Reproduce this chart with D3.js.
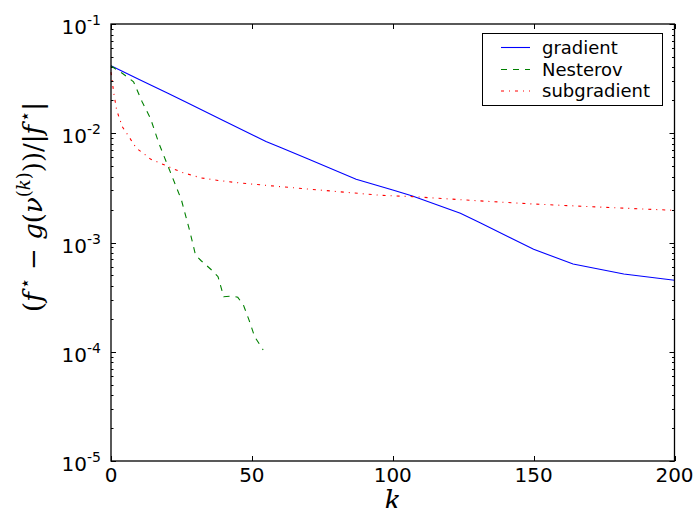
<!DOCTYPE html>
<html>
<head>
<meta charset="utf-8">
<script src="https://cdn.jsdelivr.net/npm/d3@7"></script>
<style>
  body { margin: 0; background: #fff; }
  text { font-family: "DejaVu Sans", sans-serif; }
</style>
</head>
<body>
<div id="viz-container"></div>
<script>
// data
let gradK   = [0, 10, 20, 26, 40, 55, 60, 70, 87, 100, 107, 124, 131, 150, 164, 182, 200];
let gradVal = [0.0414, 0.0311, 0.0233, 0.0196, 0.0130, 0.00841, 0.00743, 0.00581, 0.0038, 0.00302, 0.00267, 0.00185, 0.00152, 0.000867, 0.000635, 0.000515, 0.000452];

let nestK   = [0, 4, 8, 11, 14, 17, 21, 25, 28, 30, 32, 36, 38, 40, 43, 45, 47, 49, 51, 54];
let nestVal = [0.0413, 0.0354, 0.0296, 0.0195, 0.0137, 0.00809, 0.00445, 0.00245, 0.00126, 0.000769, 0.000681, 0.000552, 0.000486, 0.000319, 0.000324, 0.000315, 0.000268, 0.000195, 0.000137, 0.000104];

let subK   = [0, 1, 2, 4, 6, 9, 12, 14, 20, 25, 32, 38, 46, 57, 69, 96, 107, 129, 150, 175, 200];
let subVal = [0.0363, 0.0232, 0.0163, 0.0115, 0.0096, 0.0073, 0.0064, 0.0058, 0.0050, 0.0044, 0.0039, 0.0037, 0.0035, 0.0033, 0.0031, 0.0027, 0.00263, 0.00242, 0.00225, 0.0021, 0.00197];

let xTicks = [0, 50, 100, 150, 200];
let yTicks = [1e-5, 1e-4, 1e-3, 1e-2, 1e-1];
let yTickExp = ["-5", "-4", "-3", "-2", "-1"];

let seriesNames = ["gradient", "Nesterov", "subgradient"];

let viz = d3.select("#viz-container")
    .append("svg")
    .attr("width", 699)
    .attr("height", 508)
;

let pLeft = 111, pRight = 674.5, pTop = 24, pBottom = 461;

let x = d3.scaleLinear().domain([0, 200]).range([pLeft, pRight]);
let y = d3.scaleLog().domain([1e-5, 1e-1]).range([pBottom, pTop]);

// minor ticks on log axis
let minor = [];
for (let e = -5; e < -1; e++) {
  for (let m = 2; m <= 9; m++) minor.push(m * Math.pow(10, e));
}

let ticks = viz.append("g").attr("stroke", "black").attr("stroke-width", 1);

ticks.selectAll(".ymin").data(minor).enter().append("line")
  .attr("x1", pLeft).attr("x2", pLeft + 2.5)
  .attr("y1", d => Math.round(y(d)) + 0.5).attr("y2", d => Math.round(y(d)) + 0.5);
ticks.selectAll(".ymin2").data(minor).enter().append("line")
  .attr("x1", pRight).attr("x2", pRight - 2.5)
  .attr("y1", d => Math.round(y(d)) + 0.5).attr("y2", d => Math.round(y(d)) + 0.5);
ticks.selectAll(".ymaj").data(yTicks).enter().append("line")
  .attr("x1", pLeft).attr("x2", pLeft + 5)
  .attr("y1", d => Math.round(y(d)) + 0.5).attr("y2", d => Math.round(y(d)) + 0.5);
ticks.selectAll(".ymaj2").data(yTicks).enter().append("line")
  .attr("x1", pRight).attr("x2", pRight - 5)
  .attr("y1", d => Math.round(y(d)) + 0.5).attr("y2", d => Math.round(y(d)) + 0.5);
ticks.selectAll(".xmaj").data(xTicks).enter().append("line")
  .attr("y1", pBottom).attr("y2", pBottom - 5)
  .attr("x1", d => Math.round(x(d)) + 0.5).attr("x2", d => Math.round(x(d)) + 0.5);
ticks.selectAll(".xmaj2").data(xTicks).enter().append("line")
  .attr("y1", pTop).attr("y2", pTop + 5)
  .attr("x1", d => Math.round(x(d)) + 0.5).attr("x2", d => Math.round(x(d)) + 0.5);

// series lines
let line = d3.line().x(d => x(d[0])).y(d => y(d[1]));

function pairs(ks, vals) {
  return ks.map((k, i) => [k, vals[i]]);
}

viz.append("path")
  .datum(pairs(gradK, gradVal))
  .attr("d", line)
  .attr("fill", "none")
  .attr("stroke", "#0000ff")
  .attr("stroke-width", 1.1);

viz.append("path")
  .datum(pairs(nestK, nestVal))
  .attr("d", line)
  .attr("fill", "none")
  .attr("stroke", "#008000")
  .attr("stroke-width", 1.1)
  .attr("stroke-dasharray", "6,6");

viz.append("path")
  .datum(pairs(subK, subVal))
  .attr("d", line)
  .attr("fill", "none")
  .attr("stroke", "#ff0000")
  .attr("stroke-width", 1.1)
  .attr("stroke-dasharray", "3,5,1,5");

// frame
viz.append("rect")
  .attr("x", pLeft).attr("y", pTop)
  .attr("width", pRight - pLeft).attr("height", pBottom - pTop)
  .attr("fill", "none").attr("stroke", "black").attr("stroke-width", 1.3);

// tick labels
viz.selectAll(".xlab").data(xTicks).enter().append("text")
  .attr("x", d => x(d))
  .attr("y", pBottom + 21)
  .attr("text-anchor", "middle")
  .attr("font-size", 20)
  .text(d => d);

let ylabs = viz.selectAll(".ylab").data(yTicks).enter().append("text")
  .attr("x", pLeft - 10)
  .attr("y", d => y(d) + 10)
  .attr("text-anchor", "end")
  .attr("font-size", 20);
ylabs.append("tspan").text("10");
ylabs.append("tspan").attr("dy", -9).attr("font-size", 14).text((d, i) => yTickExp[i]);

// axis titles
viz.append("text")
  .attr("x", x(100))
  .attr("y", 510)
  .attr("text-anchor", "middle")
  .style("font-family", "'DejaVu Serif', serif")
  .style("font-style", "italic")
  .attr("font-size", 28)
  .text("k");

let ytitle = viz.append("text")
  .attr("transform", "translate(42," + 207 + ") rotate(-90)")
  .attr("text-anchor", "middle")
  .style("font-family", "'DejaVu Serif', serif")
  .attr("font-size", 26);
ytitle.append("tspan").text("(");
ytitle.append("tspan").style("font-style", "italic").text("f");
ytitle.append("tspan").attr("dx", 3).attr("dy", -11).attr("font-size", 18).text("⋆");
ytitle.append("tspan").attr("dy", 11).text(" − ");
ytitle.append("tspan").style("font-style", "italic").text("g");
ytitle.append("tspan").text("(");
ytitle.append("tspan").style("font-style", "italic").text("ν");
ytitle.append("tspan").attr("dy", -12).attr("font-size", 18).text("(");
ytitle.append("tspan").attr("font-size", 18).style("font-style", "italic").text("k");
ytitle.append("tspan").attr("font-size", 18).text(")");
ytitle.append("tspan").attr("dy", 12).text("))/|");
ytitle.append("tspan").style("font-style", "italic").text("f");
ytitle.append("tspan").attr("dx", 3).attr("dy", -11).attr("font-size", 18).text("⋆");
ytitle.append("tspan").attr("dy", 11).text("|");

// legend
let legend = viz.append("g");
legend.append("rect")
  .attr("x", 482.5).attr("y", 33.5)
  .attr("width", 180).attr("height", 72)
  .attr("fill", "white").attr("stroke", "black").attr("stroke-width", 1);

let legStyles = [
  {color: "#0000ff", dash: null},
  {color: "#008000", dash: "6,6"},
  {color: "#ff0000", dash: "3,5,1,5"}
];
let legRows = [47.5, 69.5, 91];

let items = legend.selectAll(".item").data(seriesNames).enter().append("g");
items.append("line")
  .attr("x1", 501).attr("x2", 530)
  .attr("y1", (d, i) => legRows[i]).attr("y2", (d, i) => legRows[i])
  .attr("stroke", (d, i) => legStyles[i].color)
  .attr("stroke-width", 1.1)
  .attr("stroke-dasharray", (d, i) => legStyles[i].dash);
items.append("text")
  .attr("x", 542)
  .attr("y", (d, i) => legRows[i] + 6)
  .attr("font-size", 18)
  .text(d => d);
</script>
</body>
</html>
